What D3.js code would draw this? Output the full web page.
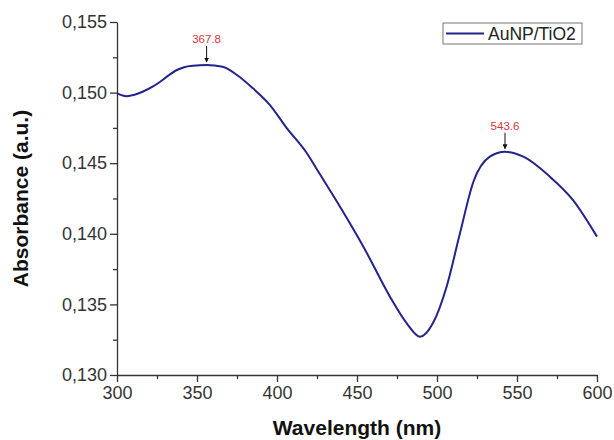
<!DOCTYPE html>
<html lang="en">
<head>
  <meta charset="UTF-8">
  <title>AuNP/TiO2 absorbance</title>
  <style>
    body { margin: 0; padding: 0; background: #fff; }
    svg { font-family: "Liberation Sans", Arial, sans-serif; }
    .tick text { fill: #333; font-size: 18px; }
    .domain, .tick line { stroke: #333; stroke-width: 1.3px; }
    .title { font-weight: bold; font-size: 21px; fill: #111; }
  </style>
</head>
<body>
  <div id="chart"></div>
  <script src="https://d3js.org/d3.v7.min.js"></script>
  <script>
    // values
    var wavelength = [300, 306, 311, 316, 322, 327, 332, 337.5, 342, 347.5, 356, 366, 375, 385, 395.6, 406,
      418.7, 425, 439.4, 454, 470.6, 481, 489.4, 497.5, 506, 514.4, 522.7, 533, 542.5, 554, 570.6, 585, 600];
    var absorbance = [0.14995, 0.14975, 0.14985, 0.15006, 0.1504, 0.15077, 0.1512, 0.1516, 0.1518, 0.1519, 0.15195, 0.15183, 0.15125, 0.1503, 0.14912, 0.1475,
      0.1457, 0.14455, 0.14192, 0.13909, 0.13555, 0.13368, 0.13271, 0.13368, 0.13625, 0.14006, 0.14367, 0.14546, 0.14581, 0.14546, 0.14404, 0.14239, 0.1398];
    var xTicks = [300, 350, 400, 450, 500, 550, 600];
    var yTicks = [0.130, 0.135, 0.140, 0.145, 0.150, 0.155];
    var peakLabels = ["367.8", "543.6"];
    var peakAt = [356, 542.5];
    var seriesName = "AuNP/TiO2";

    var width = 614, height = 440;
    var margin = { top: 22, right: 17, bottom: 65, left: 117 };
    var w = width - margin.left - margin.right;
    var h = height - margin.top - margin.bottom;

    var svg = d3.select("#chart").append("svg")
      .attr("width", width)
      .attr("height", height);

    svg.append("defs").append("marker")
      .attr("id", "arrow")
      .attr("viewBox", "0 0 10 10")
      .attr("refX", 9).attr("refY", 5)
      .attr("markerWidth", 5).attr("markerHeight", 5)
      .attr("orient", "auto")
      .append("path").attr("d", "M0,0L10,5L0,10z").attr("fill", "#111");

    var g = svg.append("g").attr("transform", "translate(" + margin.left + "," + margin.top + ")");

    var x = d3.scaleLinear().domain([300, 600]).range([0, w]);
    var y = d3.scaleLinear().domain([0.130, 0.155]).range([h, 0]);

    var fmt = function(d) { return d3.format(".3f")(d).replace(".", ","); };

    // minor ticks first, then major axes on top
    g.append("g").attr("transform", "translate(0," + h + ")")
      .call(d3.axisBottom(x).tickValues(d3.range(325, 600, 50)).tickSize(4).tickFormat(""))
      .call(function(s) { s.select(".domain").remove(); });
    g.append("g")
      .call(d3.axisLeft(y).tickValues([0.1325, 0.1375, 0.1425, 0.1475, 0.1525]).tickSize(4).tickFormat(""))
      .call(function(s) { s.select(".domain").remove(); });

    g.append("g").attr("transform", "translate(0," + h + ")")
      .call(d3.axisBottom(x).tickValues(xTicks).tickSize(7).tickSizeOuter(0).tickPadding(4));
    g.append("g")
      .call(d3.axisLeft(y).tickValues(yTicks).tickFormat(fmt).tickSize(7).tickSizeOuter(0).tickPadding(3));

    var pts = wavelength.map(function(d, i) { return [d, absorbance[i]]; });

    g.append("path")
      .datum(pts)
      .attr("fill", "none")
      .attr("stroke", "#23238c")
      .attr("stroke-width", 2)
      .attr("d", d3.line()
        .x(function(d) { return x(d[0]); })
        .y(function(d) { return y(d[1]); })
        .curve(d3.curveMonotoneX));

    // peak annotations
    peakAt.forEach(function(p, i) {
      var v = absorbance[wavelength.indexOf(p)];
      var px = x(p), py = y(v);
      g.append("line")
        .attr("x1", px).attr("x2", px)
        .attr("y1", py - 19).attr("y2", py - 3)
        .attr("stroke", "#111").attr("stroke-width", 1)
        .attr("marker-end", "url(#arrow)");
      g.append("text")
        .attr("x", px).attr("y", py - 22)
        .attr("text-anchor", "middle")
        .attr("font-size", 11.5)
        .attr("fill", "#d8343e")
        .text(peakLabels[i]);
    });

    // legend
    var lg = svg.append("g").attr("transform", "translate(443,23)");
    lg.append("rect").attr("width", 139).attr("height", 21)
      .attr("fill", "#fff").attr("stroke", "#777").attr("stroke-width", 1);
    lg.append("line").attr("x1", 3).attr("x2", 41).attr("y1", 10.5).attr("y2", 10.5)
      .attr("stroke", "#23238c").attr("stroke-width", 2);
    lg.append("text").attr("x", 45).attr("y", 17)
      .attr("font-size", 17.5).attr("fill", "#222").text(seriesName);

    svg.append("text").attr("class", "title")
      .attr("x", margin.left + w / 2).attr("y", 435)
      .attr("text-anchor", "middle")
      .text("Wavelength (nm)");
    svg.append("text").attr("class", "title")
      .attr("transform", "translate(28," + (margin.top + h / 2) + ")rotate(-90)")
      .attr("text-anchor", "middle")
      .text("Absorbance (a.u.)");
  </script>
</body>
</html>
